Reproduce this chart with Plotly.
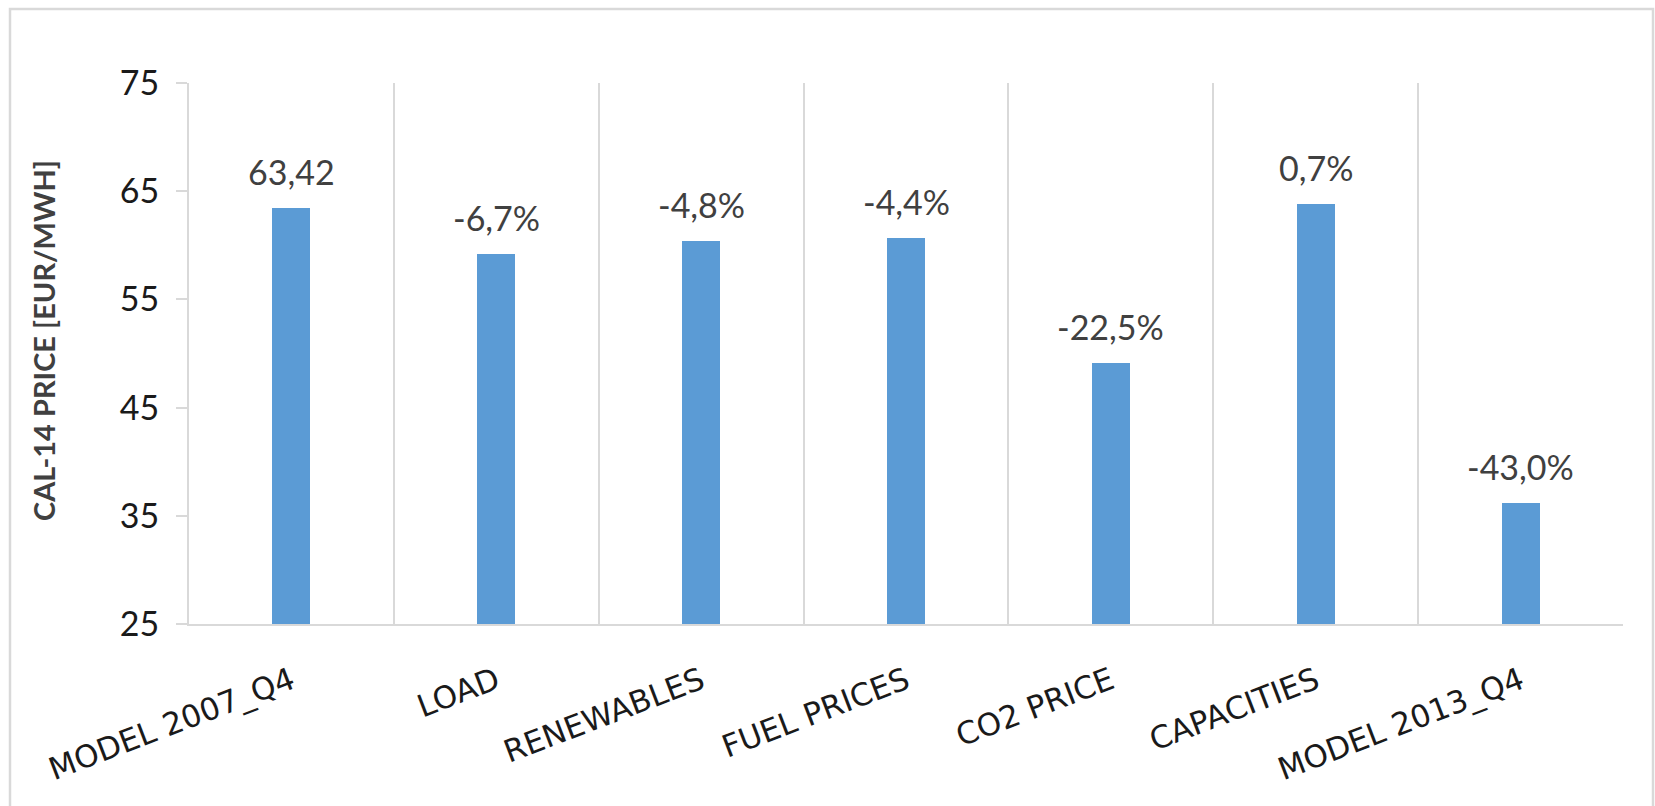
import plotly.graph_objects as go

categories = ["MODEL 2007_Q4", "LOAD", "RENEWABLES", "FUEL PRICES", "CO2 PRICE", "CAPACITIES", "MODEL 2013_Q4"]
prices = [63.42, 59.17, 60.38, 60.63, 49.15, 63.86, 36.15]
bar_labels = ["63,42", "-6,7%", "-4,8%", "-4,4%", "-22,5%", "0,7%", "-43,0%"]
y_ticks = [25, 35, 45, 55, 65, 75]

W, H = 1655, 806
L, R, T, B = 189, 32, 83, 182
pw, ph = W - L - R, H - T - B

def px_x(x):
    return (x - L) / pw

def px_y(y):
    return (H - B - y) / ph

grid = "#D9D9D9"
txt = "#404040"

fig = go.Figure()
fig.add_trace(go.Bar(
    x=categories, y=prices, width=0.185,
    marker=dict(color="#5B9BD5", line=dict(width=0)),
    hoverinfo="x+y",
))

for c, v, t in zip(categories, prices, bar_labels):
    fig.add_annotation(x=c, y=v, text=t, showarrow=False, yanchor="bottom",
                       yshift=14, font=dict(family="Lato", size=34, color=txt))

fig.add_annotation(xref="paper", yref="paper", x=px_x(43), y=px_y(341),
                   text="CAL-14 PRICE [EUR/MWH]", textangle=-90, showarrow=False,
                   xanchor="center", yanchor="middle",
                   font=dict(family="Lato", size=29, color=txt, weight="bold"))

fig.add_shape(type="rect", xref="paper", yref="paper",
              x0=px_x(10), x1=px_x(1653), y0=px_y(812), y1=px_y(9),
              line=dict(color=grid, width=2.5), fillcolor="rgba(0,0,0,0)", layer="below")

fig.update_layout(
    width=W, height=H,
    margin=dict(l=L, r=R, t=T, b=B, autoexpand=False),
    paper_bgcolor="white", plot_bgcolor="white",
    showlegend=False,
    bargap=0,
)
fig.update_xaxes(
    type="category", range=[-0.5, 6.5], automargin=False,
    tickson="boundaries", showgrid=True, gridcolor=grid, gridwidth=2,
    showline=True, linecolor=grid, linewidth=2,
    ticks="", tickangle=-21,
    tickfont=dict(family="DejaVu Sans", size=31, color="#1a1a1a"),
    ticklabelstandoff=25,
)
fig.update_yaxes(
    range=[25, 75], tickvals=y_ticks, showgrid=False, zeroline=False, automargin=False,
    showline=True, linecolor=grid, linewidth=2,
    ticks="outside", ticklen=11, tickcolor=grid, tickwidth=2,
    tickfont=dict(family="Lato", size=34, color="#1a1a1a"),
    ticklabelstandoff=10,
)

fig.write_html("out.html", config={"displayModeBar": False},
               post_script="document.body.style.margin='0';document.body.style.overflow='hidden';")
